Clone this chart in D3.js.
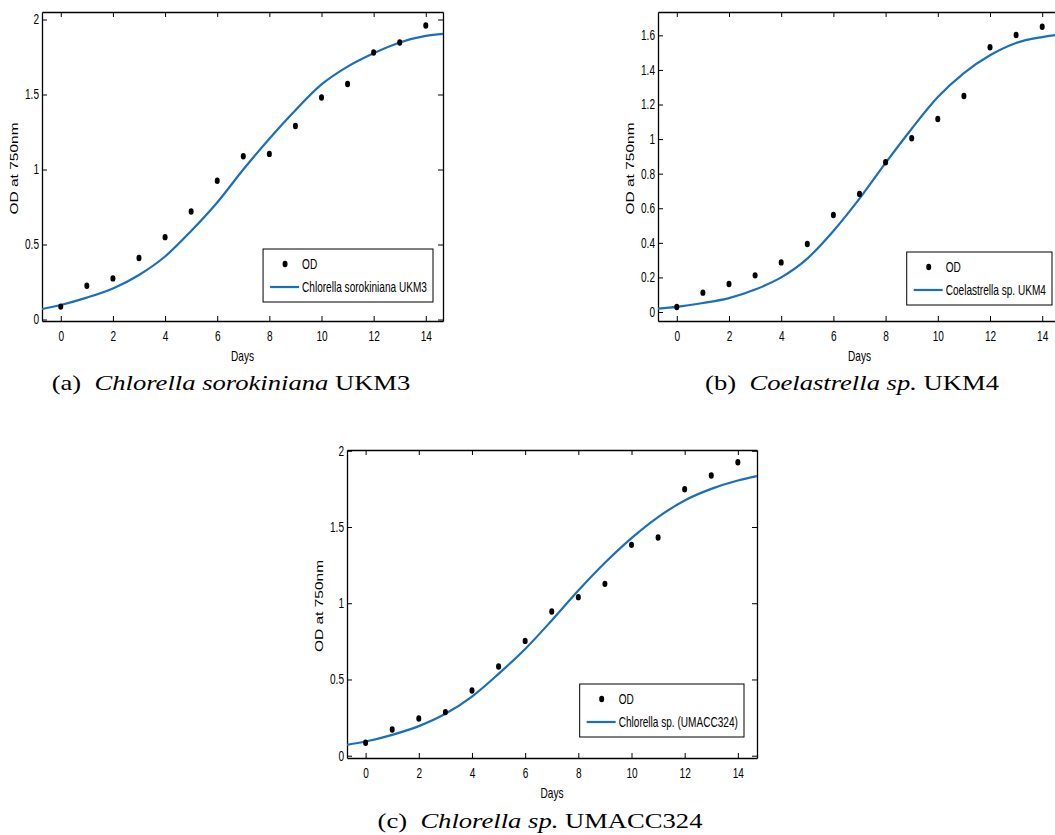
<!DOCTYPE html>
<html>
<head>
<meta charset="utf-8">
<script src="https://d3js.org/d3.v7.min.js"></script>
<style>
body { margin: 0; background: #fff; }
svg { display: block; background: #fff; }
.axis .domain { stroke: #000; stroke-width: 1.3; }
.axis .tick line { stroke: #000; stroke-width: 1; }
.fig { font-family: "Liberation Sans", Arial, sans-serif; fill: #000; }
.caption { font-family: "Liberation Serif", "Times New Roman", serif; font-size: 22px; fill: #000; }
.fit { fill: none; stroke: #1a6fbd; stroke-width: 2.2; }
</style>
</head>
<body>
<svg id="chart" width="1055" height="835"></svg>
<script>

// measured days and optical density (OD at 750nm)
var days = [0, 1, 2, 3, 4, 5, 6, 7, 8, 9, 10, 11, 12, 13, 14];
var odUKM3 = [0.086, 0.225, 0.274, 0.41, 0.549, 0.72, 0.925, 1.088, 1.104, 1.29, 1.48, 1.57, 1.78, 1.847, 1.96];
var odUKM4 = [0.029, 0.112, 0.162, 0.212, 0.287, 0.393, 0.561, 0.683, 0.866, 1.005, 1.116, 1.249, 1.531, 1.602, 1.65];
var odUMACC324 = [0.085, 0.172, 0.244, 0.286, 0.428, 0.585, 0.753, 0.946, 1.04, 1.127, 1.383, 1.431, 1.748, 1.838, 1.925];

// fitted growth curves
var fitDays = [-0.72, 0, 1, 2, 3, 4, 5, 6, 7, 8, 9, 10, 11, 12, 13, 14, 14.72];
var fitUKM3 = [0.07, 0.097, 0.146, 0.207, 0.297, 0.42, 0.59, 0.78, 1.0, 1.205, 1.395, 1.567, 1.686, 1.775, 1.847, 1.891, 1.905];
var fitUKM4 = [0.02, 0.03, 0.052, 0.08, 0.13, 0.2, 0.309, 0.469, 0.656, 0.862, 1.06, 1.243, 1.382, 1.485, 1.556, 1.59, 1.606];
var fitUMACC324 = [0.071, 0.093, 0.137, 0.194, 0.275, 0.388, 0.537, 0.70, 0.887, 1.083, 1.265, 1.427, 1.565, 1.674, 1.75, 1.805, 1.834];

var xTicks = [0, 2, 4, 6, 8, 10, 12, 14];
var yTicks2 = [0, 0.5, 1, 1.5, 2];
var yTicks16 = [0, 0.2, 0.4, 0.6, 0.8, 1, 1.2, 1.4, 1.6];

var SQ = 0.72;  // the figure text is squashed sideways in the source
var svg = d3.select("#chart");

var panels = [
  { id: "a", x0: 42, x1: 443, y0: 12, y1: 321, xDom: [-0.72, 14.66], yDom: [-0.01, 2.05], yTicks: yTicks2,
    od: odUKM3, fit: fitUKM3, name: "Chlorella sorokiniana UKM3", legR: 10, legB: 19,
    cap: ["(a)", "Chlorella sorokiniana", " UKM3"], capX: 231, capY: 390 },
  { id: "b", x0: 658, x1: 1061, y0: 12, y1: 321, xDom: [-0.72, 14.72], yDom: [-0.052, 1.735], yTicks: yTicks16,
    od: odUKM4, fit: fitUKM4, name: "Coelastrella sp. UKM4", legR: 9, legB: 16,
    cap: ["(b)", "Coelastrella sp.", " UKM4"], capX: 852, capY: 390 },
  { id: "c", x0: 347, x1: 757, y0: 450, y1: 758, xDom: [-0.70, 14.72], yDom: [-0.015, 2.005], yTicks: yTicks2,
    od: odUMACC324, fit: fitUMACC324, name: "Chlorella sp. (UMACC324)", legR: 13, legB: 21,
    cap: ["(c)", "Chlorella sp.", " UMACC324"], capX: 540, capY: 828 }
];

function squash(sel) {
  sel.attr("font-size", 14).attr("font-family", "Liberation Sans, Arial, sans-serif");
  sel.selectAll("text").attr("transform", "scale(" + SQ + ",1)");
}

panels.forEach(function (p) {
  var g = svg.append("g");
  var x = d3.scaleLinear().domain(p.xDom).range([p.x0, p.x1]);
  var y = d3.scaleLinear().domain(p.yDom).range([p.y1, p.y0]);
  var fmt = d3.format("~g");

  g.append("clipPath").attr("id", "clip-" + p.id)
    .append("rect").attr("x", p.x0).attr("y", p.y0)
    .attr("width", p.x1 - p.x0).attr("height", p.y1 - p.y0);

  // frame with inward ticks on all four sides
  g.append("g").attr("class", "axis").attr("transform", "translate(0," + p.y1 + ")")
    .call(d3.axisBottom(x).tickValues(xTicks).tickSize(-5).tickSizeOuter(0).tickPadding(10))
    .call(squash);
  g.append("g").attr("class", "axis").attr("transform", "translate(0," + p.y0 + ")")
    .call(d3.axisTop(x).tickValues(xTicks).tickSize(-5).tickSizeOuter(0).tickFormat(""));
  g.append("g").attr("class", "axis").attr("transform", "translate(" + p.x0 + ",0)")
    .call(d3.axisLeft(y).tickValues(p.yTicks).tickSize(-5).tickSizeOuter(0).tickPadding(3 / SQ).tickFormat(fmt))
    .call(squash);
  g.append("g").attr("class", "axis").attr("transform", "translate(" + p.x1 + ",0)")
    .call(d3.axisRight(y).tickValues(p.yTicks).tickSize(-5).tickSizeOuter(0).tickFormat(""));

  // axis titles
  g.append("text").attr("class", "fig")
    .attr("transform", "translate(" + ((p.x0 + p.x1) / 2) + "," + (p.y1 + 35) + ") scale(" + SQ + ",1)")
    .attr("text-anchor", "middle").attr("dy", "0.35em").attr("font-size", 14)
    .text("Days");
  g.append("text").attr("class", "fig")
    .attr("transform", "translate(" + (p.x0 - 28) + "," + ((p.y0 + p.y1) / 2 + 2) + ") scale(" + SQ + ",1) rotate(-90)")
    .attr("text-anchor", "middle").attr("dy", "0.35em").attr("font-size", 15.5)
    .text("OD at 750nm");

  // fitted curve
  var line = d3.line()
    .x(function (d, i) { return x(fitDays[i]); })
    .y(function (d) { return y(d); })
    .curve(d3.curveMonotoneX);
  g.append("path").attr("class", "fit").attr("clip-path", "url(#clip-" + p.id + ")")
    .attr("d", line(p.fit));

  // measured points
  g.selectAll("ellipse.pt").data(p.od).enter().append("ellipse")
    .attr("class", "pt")
    .attr("cx", function (d, i) { return x(days[i]); })
    .attr("cy", function (d) { return y(d); })
    .attr("rx", 2.5).attr("ry", 3.2).attr("fill", "#000");

  // legend
  var leg = g.append("g");
  var box = leg.append("rect").attr("fill", "#fff").attr("stroke", "#000").attr("stroke-width", 1);
  var t1 = leg.append("text").attr("class", "fig").attr("font-size", 14).attr("dy", "0.35em").text("OD");
  var t2 = leg.append("text").attr("class", "fig").attr("font-size", 14).attr("dy", "0.35em").text(p.name);
  var w = 39 + t2.node().getComputedTextLength() * SQ + 6;
  var h = 53;
  var lx = p.x1 - p.legR - w;
  var ly = p.y1 - p.legB - h;
  box.attr("x", lx).attr("y", ly).attr("width", w).attr("height", h);
  leg.append("ellipse").attr("cx", lx + 22).attr("cy", ly + 15).attr("rx", 2.5).attr("ry", 3.2).attr("fill", "#000");
  leg.append("line").attr("x1", lx + 7).attr("x2", lx + 36).attr("y1", ly + 38).attr("y2", ly + 38)
    .attr("stroke", "#1a6fbd").attr("stroke-width", 2.2);
  t1.attr("transform", "translate(" + (lx + 39) + "," + (ly + 15) + ") scale(" + SQ + ",1)");
  t2.attr("transform", "translate(" + (lx + 39) + "," + (ly + 38) + ") scale(" + SQ + ",1)");

  // caption under the panel
  var cap = svg.append("text").attr("class", "caption")
    .attr("transform", "translate(" + p.capX + "," + p.capY + ") scale(1.21,1)")
    .attr("text-anchor", "middle");
  cap.append("tspan").text(p.cap[0]);
  cap.append("tspan").attr("dx", 11).attr("font-style", "italic").text(p.cap[1]);
  cap.append("tspan").text(p.cap[2]);
});

</script>
</body>
</html>
